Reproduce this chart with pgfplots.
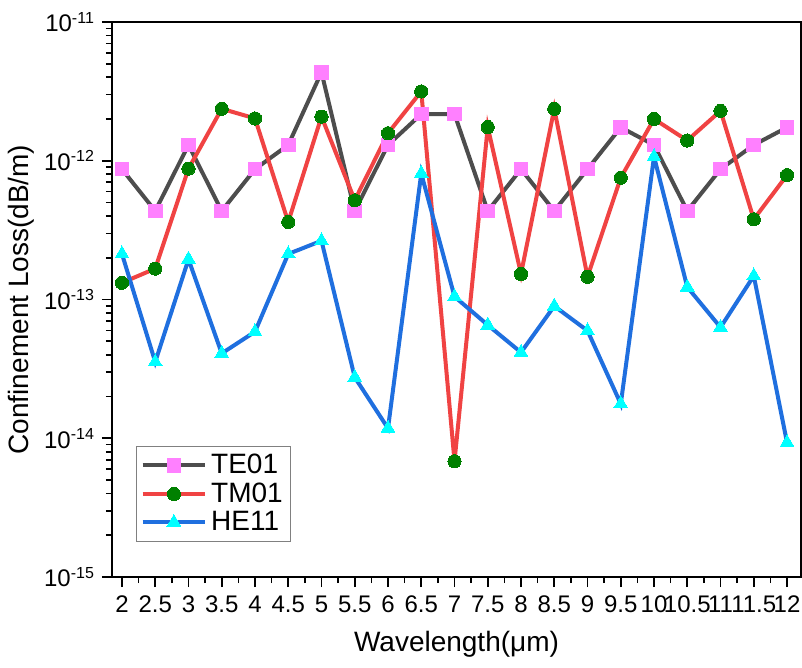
\documentclass[border=0pt]{standalone}
\usepackage{pgfplots}
\pgfplotsset{compat=1.18}
\usepackage{fontspec}
\setmainfont{Liberation Sans}

\definecolor{teline}{HTML}{4D4D4D}
\definecolor{temark}{HTML}{FF80FF}
\definecolor{tmline}{HTML}{F04343}
\definecolor{tmmark}{HTML}{008000}
\definecolor{heline}{HTML}{1F6FDF}
\definecolor{hemark}{HTML}{00FFFF}

\begin{document}
\begin{tikzpicture}
\useasboundingbox (-56pt,-45.5pt) rectangle (345pt,288.5pt);
\begin{axis}[
    at={(0,0)}, anchor=south west,
    scale only axis,
    width=344.5pt, height=277.5pt,
    ymode=log,
    log basis y=10,
    xmin=1.85, xmax=12.21,
    ymin=1e-15, ymax=1e-11,
    xtick={2,2.5,3,3.5,4,4.5,5,5.5,6,6.5,7,7.5,8,8.5,9,9.5,10,10.5,11,11.5,12},
    xticklabels={2,2.5,3,3.5,4,4.5,5,5.5,6,6.5,7,7.5,8,8.5,9,9.5,10,10.5,11,11.5,12},
    minor x tick num=1,
    yticklabel={10\textsuperscript{\pgfmathparse{int(round(\tick))}\pgfmathresult}},
    tick pos=left,
    tick align=outside,
    major tick length=5pt,
    minor tick length=3pt,
    every tick/.style={black, line width=0.8pt},
    every minor y tick/.style={black, line width=0.8pt},
    axis line style={line width=1.2pt},
    tick label style={font=\fontsize{12}{14}\selectfont},
    xticklabel style={inner xsep=0pt, yshift=-1pt},
    xlabel={Wavelength(μm)},
    ylabel={Confinement Loss(dB/m)},
    label style={font=\fontsize{14}{16}\selectfont},
    xlabel style={yshift=-2pt},
    ylabel style={yshift=-2pt},
    legend style={
        at={(0.035,0.063)}, anchor=south west,
        draw=gray, line width=0.5pt,
        font=\fontsize{14}{16}\selectfont,
        row sep=-1pt,
        inner sep=2pt,
    },
    legend cell align=left,
    legend image code/.code={
        \draw[mark repeat=2,mark phase=2]
        plot coordinates {(0cm,0cm) (0.55cm,0cm) (1.1cm,0cm)};
    },
    every axis plot/.append style={line width=2pt},
]

\addplot[teline, mark=square*, mark size=3.4pt, mark options={draw=temark, fill=temark, line width=0pt}] coordinates {
(2,8.7e-13) (2.5,4.35e-13) (3,1.3e-12) (3.5,4.35e-13) (4,8.7e-13)
(4.5,1.3e-12) (5,4.34e-12) (5.5,4.35e-13) (6,1.3e-12) (6.5,2.17e-12)
(7,2.17e-12) (7.5,4.35e-13) (8,8.7e-13) (8.5,4.35e-13) (9,8.7e-13)
(9.5,1.74e-12) (10,1.3e-12) (10.5,4.35e-13) (11,8.7e-13) (11.5,1.3e-12)
(12,1.74e-12)
};
\addlegendentry{TE01}

\addplot[tmline, mark=*, mark size=3.3pt, mark options={draw=tmmark, fill=tmmark, line width=0pt}] coordinates {
(2,1.32e-13) (2.5,1.67e-13) (3,8.77e-13) (3.5,2.37e-12) (4,2.02e-12)
(4.5,3.62e-13) (5,2.08e-12) (5.5,5.19e-13) (6,1.58e-12) (6.5,3.16e-12)
(7,6.83e-15) (7.5,1.75e-12) (8,1.53e-13) (8.5,2.37e-12) (9,1.46e-13)
(9.5,7.55e-13) (10,2.0e-12) (10.5,1.40e-12) (11,2.29e-12) (11.5,3.79e-13)
(12,7.88e-13)
};
\addlegendentry{TM01}

\addplot[heline, mark=triangle*, mark size=4pt, mark options={draw=hemark, fill=hemark, line width=0pt}] coordinates {
(2,2.13e-13) (2.5,3.55e-14) (3,1.95e-13) (3.5,4.09e-14) (4,5.86e-14)
(4.5,2.13e-13) (5,2.65e-13) (5.5,2.75e-14) (6,1.18e-14) (6.5,8.1e-13)
(7,1.05e-13) (7.5,6.55e-14) (8,4.16e-14) (8.5,8.97e-14) (9,5.96e-14)
(9.5,1.77e-14) (10,1.07e-12) (10.5,1.23e-13) (11,6.3e-14) (11.5,1.48e-13)
(12,9.3e-15)
};
\addlegendentry{HE11}

\end{axis}
\end{tikzpicture}
\end{document}
